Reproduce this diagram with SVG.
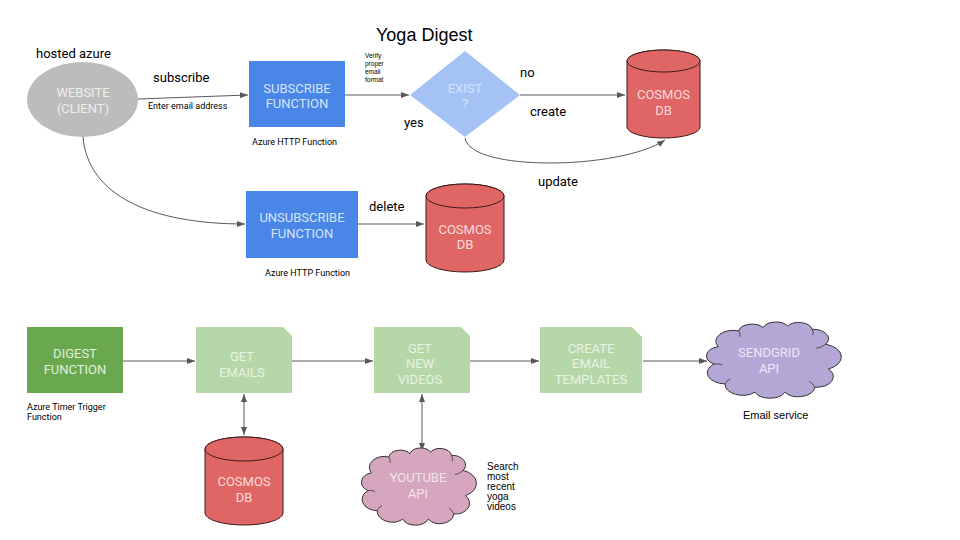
<svg xmlns="http://www.w3.org/2000/svg" width="960" height="540" viewBox="0 0 960 540">
<defs>
<style>
.lbl{font-family:Roboto,"Liberation Sans",sans-serif;fill:#000}
.ar{font-family:"Liberation Sans",Arial,sans-serif;fill:#000}
.nt{font-family:Roboto,"Liberation Sans",sans-serif;font-size:13px;text-anchor:middle}
.conn{fill:none;stroke:#595959;stroke-width:1}
.db{fill:#e06666;stroke:#3d1a1a;stroke-width:1}
.cloud{stroke:#333;stroke-width:1;vector-effect:non-scaling-stroke}
.inner{fill:none;stroke:#333;stroke-width:0.8;vector-effect:non-scaling-stroke}
</style>
<marker id="ah" markerWidth="8" markerHeight="6" refX="8" refY="3" orient="auto-start-reverse" markerUnits="userSpaceOnUse">
<path d="M0,0 L8,3 L0,6 Z" fill="#595959"/>
</marker>
</defs>
<rect width="960" height="540" fill="#fff"/>

<text class="ar" x="376" y="41" font-size="18">Yoga Digest</text>

<g id="connectors">
<path class="conn" d="M138,99 L248,95" marker-end="url(#ah)"/>
<path class="conn" d="M345,95 L409,95" marker-end="url(#ah)"/>
<path class="conn" d="M520,95 L625,95" marker-end="url(#ah)"/>
<path class="conn" d="M465,138 C470,172 620,170 665,140" marker-end="url(#ah)"/>
<path class="conn" d="M83,137 C88,195 150,224 245,224" marker-end="url(#ah)"/>
<path class="conn" d="M358,224 L424,224" marker-end="url(#ah)"/>
<path class="conn" d="M123,361 L195,361" marker-end="url(#ah)"/>
<path class="conn" d="M292,361 L373,361" marker-end="url(#ah)"/>
<path class="conn" d="M470,361 L539,361" marker-end="url(#ah)"/>
<path class="conn" d="M643,361 L707,361" marker-end="url(#ah)"/>
<path class="conn" d="M244,394 L244,435" marker-start="url(#ah)" marker-end="url(#ah)"/>
<path class="conn" d="M422,394 L422,451" marker-start="url(#ah)" marker-end="url(#ah)"/>
<text class="lbl" x="153" y="82" font-size="13">subscribe</text>
<text class="lbl" x="148" y="109" font-size="9">Enter email address</text>
<text class="ar" x="365" y="58" font-size="6.5">Verify</text>
<text class="ar" x="365" y="66" font-size="6.5">proper</text>
<text class="ar" x="365" y="74" font-size="6.5">email</text>
<text class="ar" x="365" y="82" font-size="6.5">format</text>
<text class="lbl" x="520" y="77" font-size="13">no</text>
<text class="lbl" x="530" y="116" font-size="13">create</text>
<text class="lbl" x="404" y="127" font-size="13">yes</text>
<text class="lbl" x="538" y="186" font-size="13">update</text>
<text class="lbl" x="369" y="211" font-size="13">delete</text>
</g>

<g id="website">
<ellipse cx="82.5" cy="99.5" rx="55.5" ry="37.5" fill="#bcbcbc"/>
<text class="nt" x="83" y="97" fill="#eeeeee">WEBSITE</text>
<text class="nt" x="83" y="113" fill="#eeeeee">(CLIENT)</text>
<text class="lbl" x="36" y="58" font-size="13">hosted azure</text>
</g>

<g id="subscribe">
<rect x="249" y="61" width="96" height="66" fill="#4a86e8"/>
<text class="nt" x="297" y="93" fill="#d6e4fb">SUBSCRIBE</text>
<text class="nt" x="297" y="108" fill="#d6e4fb">FUNCTION</text>
<text class="lbl" x="252" y="145" font-size="9">Azure HTTP Function</text>
</g>

<g id="exist">
<polygon points="410,95 465,51 520,95 465,137" fill="#a4c2f4"/>
<text class="nt" x="465" y="93" fill="#d6e4fb">EXIST</text>
<text class="nt" x="465" y="108" fill="#d6e4fb">?</text>
</g>

<g id="cosmos1">
<path class="db" d="M627,61 V127 A36.5,11 0 0 0 700,127 V61 A36.5,11 0 0 0 627,61 Z"/>
<ellipse class="db" cx="663.5" cy="61" rx="36.5" ry="11"/>
<text class="nt" x="663.5" y="99" fill="#f9dada">COSMOS</text>
<text class="nt" x="663.5" y="115" fill="#f9dada">DB</text>
</g>

<g id="unsubscribe">
<rect x="246" y="191" width="112" height="67" fill="#4a86e8"/>
<text class="nt" x="302" y="222" fill="#d6e4fb">UNSUBSCRIBE</text>
<text class="nt" x="302" y="238" fill="#d6e4fb">FUNCTION</text>
<text class="lbl" x="265" y="276" font-size="9">Azure HTTP Function</text>
</g>

<g id="cosmos2">
<path class="db" d="M426,196 V260 A39,12 0 0 0 504,260 V196 A39,12 0 0 0 426,196 Z"/>
<ellipse class="db" cx="465" cy="196" rx="39" ry="12"/>
<text class="nt" x="465" y="234" fill="#f9dada">COSMOS</text>
<text class="nt" x="465" y="249" fill="#f9dada">DB</text>
</g>

<g id="digest">
<rect x="27" y="327" width="96" height="66" fill="#6aa84f"/>
<text class="nt" x="75" y="358" fill="#e2efdb">DIGEST</text>
<text class="nt" x="75" y="374" fill="#e2efdb">FUNCTION</text>
<text class="lbl" x="27" y="410" font-size="9">Azure Timer Trigger</text>
<text class="lbl" x="27" y="420" font-size="9">Function</text>
</g>

<g id="getemails">
<path d="M196,327 H283 L292,336 V393 H196 Z" fill="#b6d7a8"/>
<text class="nt" x="242" y="361" fill="#e8f3e3">GET</text>
<text class="nt" x="242" y="377" fill="#e8f3e3">EMAILS</text>
</g>

<g id="getvideos">
<path d="M374,327 H461 L470,336 V393 H374 Z" fill="#b6d7a8"/>
<text class="nt" x="420" y="353" fill="#e8f3e3">GET</text>
<text class="nt" x="420" y="368" fill="#e8f3e3">NEW</text>
<text class="nt" x="420" y="384" fill="#e8f3e3">VIDEOS</text>
</g>

<g id="templates">
<path d="M540,327 H632 L642,337 V393 H540 Z" fill="#b6d7a8"/>
<text class="nt" x="591" y="353" fill="#e8f3e3">CREATE</text>
<text class="nt" x="591" y="368" fill="#e8f3e3">EMAIL</text>
<text class="nt" x="591" y="384" fill="#e8f3e3">TEMPLATES</text>
</g>

<g id="sendgrid">
<g transform="translate(706,317.7) scale(1.36,0.828)">
<path class="cloud" fill="#b4a7d6" d="M9,35 A13,13 0 0 1 24,16 A10,10 0 0 1 42,12 A10,10 0 0 1 60,10 A10,10 0 0 1 78,14 A11.5,11.5 0 0 1 88,32 A16,16 0 0 1 90,62 A13,13 0 0 1 80,84 A12,12 0 0 1 58,90 A12,12 0 0 1 36,90 A13,13 0 0 1 14,80 A13.5,13.5 0 0 1 6,56 A11.5,11.5 0 0 1 9,35 Z"/>
<path class="inner" d="M24,16 q1.5,3 1,7 M78,14 q1.5,3 0.5,7 M88,32 q-3,4 -7,5 M80,84 q-1,-4 -4,-7 M14,80 q1,-4 4,-6 M6,56 q3,-1 6,1"/>
</g>
<text class="nt" x="769" y="357" fill="#ece8f6">SENDGRID</text>
<text class="nt" x="769" y="373" fill="#ece8f6">API</text>
<text class="ar" x="743" y="419" font-size="11">Email service</text>
</g>

<g id="cosmos3">
<path class="db" d="M205,449 V513 A39,12 0 0 0 283,513 V449 A39,12 0 0 0 205,449 Z"/>
<ellipse class="db" cx="244" cy="449" rx="39" ry="12"/>
<text class="nt" x="244" y="486" fill="#f9dada">COSMOS</text>
<text class="nt" x="244" y="502" fill="#f9dada">DB</text>
</g>

<g id="youtube">
<g transform="translate(361,443.6) scale(1.16,0.839)">
<path class="cloud" fill="#d5a6bd" d="M9,35 A13,13 0 0 1 24,16 A10,10 0 0 1 42,12 A10,10 0 0 1 60,10 A10,10 0 0 1 78,14 A11.5,11.5 0 0 1 88,32 A16,16 0 0 1 90,62 A13,13 0 0 1 80,84 A12,12 0 0 1 58,90 A12,12 0 0 1 36,90 A13,13 0 0 1 14,80 A13.5,13.5 0 0 1 6,56 A11.5,11.5 0 0 1 9,35 Z"/>
<path class="inner" d="M24,16 q1.5,3 1,7 M78,14 q1.5,3 0.5,7 M88,32 q-3,4 -7,5 M80,84 q-1,-4 -4,-7 M14,80 q1,-4 4,-6 M6,56 q3,-1 6,1"/>
</g>
<text class="nt" x="418" y="482" fill="#f3e3eb">YOUTUBE</text>
<text class="nt" x="418" y="498" fill="#f3e3eb">API</text>
<text class="ar" x="487" y="469.5" font-size="10">Search</text>
<text class="ar" x="487" y="479.5" font-size="10">most</text>
<text class="ar" x="487" y="489.5" font-size="10">recent</text>
<text class="ar" x="487" y="499.5" font-size="10">yoga</text>
<text class="ar" x="487" y="509.5" font-size="10">videos</text>
</g>
</svg>
